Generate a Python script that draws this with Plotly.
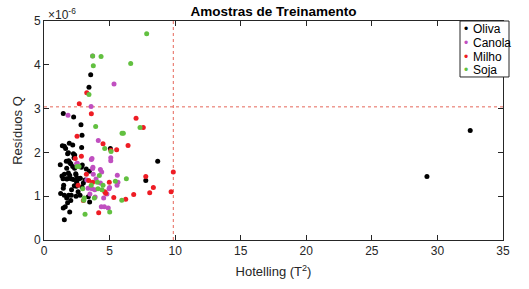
import plotly.graph_objects as go

# Hotelling T^2 (x) and Q residuals (y, in units of 1e-6)
oliva_x = [3.56, 3.43, 1.47, 2.26, 2.82, 2.9, 1.93, 1.55, 2.19, 2.87, 5.06, 1.86, 2.24, 2.29, 8.67, 1.7, 1.96, 1.24,
           2.19, 2.85, 1.73, 3.46, 1.37, 1.96, 2.42, 7.76, 1.73, 2.24, 2.64, 3.13, 2.49, 1.47, 2.31, 2.46, 2.9, 1.27,
           1.55, 1.88, 2.08, 1.73, 2.04, 2.44, 2.75, 3.38, 3.48, 1.62, 1.47, 1.96, 1.55, 1.65, 1.8, 2.34, 1.88, 2.04,
           2.92, 2.33, 3.22, 1.55, 1.86, 2.44, 1.45, 1.78, 2.06, 2.54, 2.77, 1.4, 1.5, 2.1, 1.8, 2.6, 3.0,
           29.2, 32.5]
oliva_y = [3.77, 3.49, 2.89, 2.81, 2.63, 2.39, 2.21, 2.14, 2.17, 2.11, 2.09, 1.99, 1.97, 1.88, 1.80, 1.80, 1.77, 1.72,
           1.68, 1.66, 1.64, 1.57, 1.46, 1.48, 1.51, 1.36, 1.39, 1.38, 1.39, 1.37, 1.32, 1.18, 1.24, 1.23, 1.21, 1.06,
           1.02, 1.02, 1.02, 0.96, 0.90, 1.00, 1.02, 0.99, 0.87, 0.76, 0.73, 0.64, 0.46, 2.09, 1.97, 1.94, 1.81, 1.74,
           1.71, 1.64, 1.62, 1.50, 1.53, 1.49, 1.40, 1.40, 1.40, 1.41, 1.41, 2.15, 1.25, 1.15, 0.85, 1.10, 1.30,
           1.45, 2.50]

canola_x = [3.71, 5.34, 3.59, 1.83, 4.14, 5.09, 5.09, 3.61, 2.54, 4.3, 3.71, 4.4, 3.76, 5.59, 3.97, 5.64, 5.57, 3.36,
            3.66, 3.87, 4.96, 5.0, 3.9, 4.55, 4.37, 4.6, 4.9, 3.66, 2.49, 3.73, 3.26, 4.3, 4.8, 3.5]
canola_y = [4.20, 3.56, 3.05, 2.85, 2.27, 1.88, 1.81, 1.84, 1.75, 1.61, 1.63, 1.55, 1.50, 1.48, 1.39, 1.32, 1.25, 1.18,
            1.17, 1.15, 1.17, 1.20, 0.98, 0.96, 0.76, 0.76, 0.73, 1.86, 1.74, 1.66, 1.37, 1.30, 1.05, 1.05]

milho_x = [3.26, 2.69, 3.61, 7.02, 7.57, 2.52, 4.5, 6.41, 5.54, 2.85, 9.86, 7.76, 3.41, 3.71, 4.98, 4.63, 4.7, 8.34,
           8.06, 9.69, 6.84, 6.23, 5.32, 4.17, 2.38, 3.23, 2.6, 3.0, 5.1]
milho_y = [3.36, 3.11, 2.88, 2.78, 2.57, 2.37, 2.20, 2.16, 2.06, 1.91, 1.55, 1.45, 1.36, 1.32, 1.32, 1.10, 1.07, 1.20,
           1.08, 1.10, 1.04, 0.93, 0.97, 0.62, 1.86, 1.50, 1.25, 0.90, 2.05]

soja_x = [7.83, 3.71, 4.35, 6.61, 3.76, 3.43, 3.94, 7.32, 5.95, 6.05, 4.63, 5.11, 2.67, 2.52, 4.22, 6.28, 4.07, 5.44,
          2.95, 4.12, 4.42, 5.93, 3.84, 3.07, 3.03, 5.01, 3.13, 4.5, 3.6]
soja_y = [4.71, 4.20, 4.19, 4.03, 3.98, 3.32, 2.59, 2.57, 2.44, 2.44, 2.09, 2.02, 1.68, 1.68, 1.47, 1.40, 1.32, 1.34,
          1.17, 1.17, 1.15, 0.91, 0.96, 0.96, 0.91, 0.64, 0.59, 1.25, 1.25]

t2_limit = 9.86
q_limit = 3.04

x_ticks = [0, 5, 10, 15, 20, 25, 30, 35]
y_ticks = [0, 1, 2, 3, 4, 5]

series_names = ["Oliva", "Canola", "Milho", "Soja"]
series_x = [oliva_x, canola_x, milho_x, soja_x]
series_y = [oliva_y, canola_y, milho_y, soja_y]
series_colors = ["#000000", "#c04fc0", "#ee1c24", "#62c040"]

font = "Liberation Sans, Arial, sans-serif"
ink = "#262626"

fig = go.Figure()
for name, xs, ys, col in zip(series_names, series_x, series_y, series_colors):
    fig.add_trace(go.Scatter(x=xs, y=ys, mode="markers", name=name, showlegend=False,
                             marker=dict(color=col, size=5, line=dict(width=0))))

fig.add_shape(type="line", x0=t2_limit, x1=t2_limit, y0=0, y1=5, xref="x", yref="y",
              line=dict(color="#e04030", width=0.8, dash="dot"), layer="below")
fig.add_shape(type="line", x0=0, x1=35, y0=q_limit, y1=q_limit, xref="x", yref="y",
              line=dict(color="#e04030", width=0.8, dash="dot"), layer="below")

axis_common = dict(showgrid=False, zeroline=False, showline=True, mirror="ticks", linecolor=ink,
                   linewidth=1, ticks="inside", ticklen=5, tickcolor=ink,
                   tickfont=dict(size=12, color=ink, family=font))

fig.update_xaxes(range=[0, 35], tickvals=x_ticks,
                 title=dict(text="Hotelling (T<sup>2</sup>)", font=dict(size=13, color=ink, family=font),
                            standoff=9),
                 **axis_common)
fig.update_yaxes(range=[0, 5], tickvals=y_ticks,
                 title=dict(text="Resíduos Q", font=dict(size=13, color=ink, family=font), standoff=8),
                 **axis_common)

fig.add_annotation(text="×10<sup>-6</sup>", xref="paper", yref="paper", x=0.0, y=1.0, xanchor="left",
                   yanchor="bottom", showarrow=False, font=dict(size=12, color=ink, family=font),
                   xshift=2, yshift=-3)

# legend box (manual, compact like the reference)
plot_l, plot_r, plot_t, plot_b = 44, 503, 21, 244
pw, ph = plot_r - plot_l, plot_b - plot_t
def px_x(p):
    return (p - plot_l) / pw
def px_y(p):
    return (plot_b - p) / ph

fig.add_shape(type="rect", xref="paper", yref="paper", x0=px_x(460), x1=px_x(509), y0=px_y(78), y1=px_y(21),
              line=dict(color=ink, width=1), fillcolor="white", layer="above")
entry_y = [28.7, 43.0, 57.3, 71.3]
for name, col, ey in zip(series_names, series_colors, entry_y):
    fig.add_annotation(text="•", xref="paper", yref="paper", x=px_x(465.5), y=px_y(ey), xanchor="center",
                       yanchor="middle", showarrow=False, font=dict(size=12, color=col, family=font))
    fig.add_annotation(text=name, xref="paper", yref="paper", x=px_x(470.5), y=px_y(ey), xanchor="left",
                       yanchor="middle", showarrow=False, font=dict(size=12, color="#000000", family=font))

fig.update_layout(
    width=529, height=289,
    margin=dict(l=plot_l, r=529 - plot_r, t=plot_t, b=289 - plot_b),
    paper_bgcolor="white", plot_bgcolor="white",
    title=dict(text="<b>Amostras de Treinamento</b>", x=0.5, xref="paper", xanchor="center",
               y=1 - 11.5 / 289, yanchor="middle",
               font=dict(size=13.5, color="#000000", family=font)),
    showlegend=False,
)

fig.write_html("out.html", config={"displayModeBar": False},
               post_script="document.body.style.margin='0';")
